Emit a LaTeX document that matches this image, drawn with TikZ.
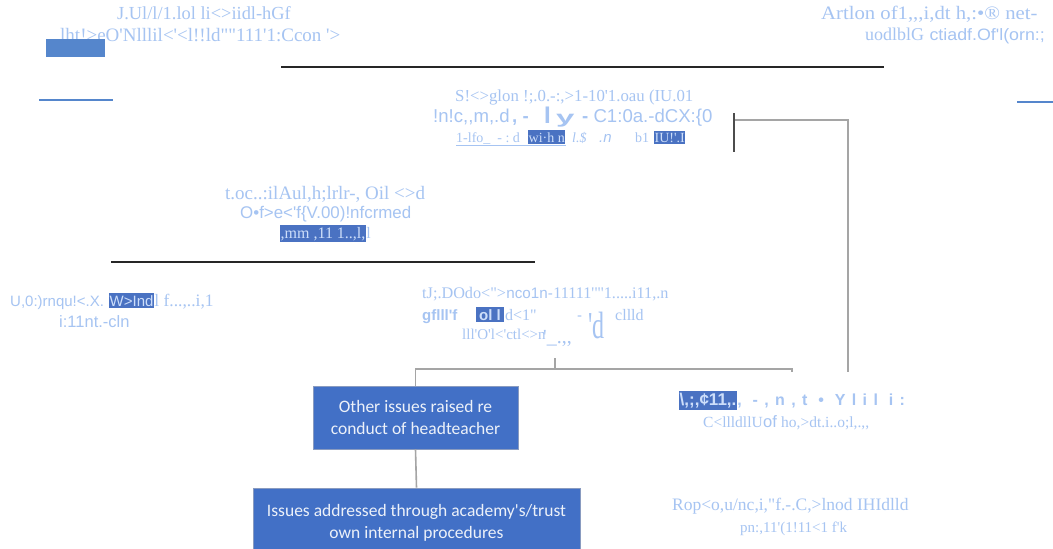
\documentclass[tikz,border=0pt]{standalone}
\usepackage{fontspec}
\setmainfont{Liberation Serif}[Ligatures=TeXOff]
\setsansfont{Liberation Sans}[Ligatures=TeXOff]
\newfontfamily\boxfont{Carlito}[Ligatures=TeXOff]
\definecolor{lb}{RGB}{166,196,242}
\definecolor{hlf}{RGB}{74,114,194}
\definecolor{hlt}{RGB}{205,222,250}
\definecolor{bxf}{RGB}{66,112,198}
\definecolor{bxd}{RGB}{58,88,150}
\definecolor{gl}{RGB}{165,165,165}
\definecolor{ruleblue}{RGB}{85,134,204}
\tikzset{
  ocr/.style={inner sep=0pt, anchor=base west, text=lb},
  hl/.style={inner xsep=0.5pt, inner ysep=2pt, anchor=base west, fill=hlf, text=hlt},
  serifz/.style={font=\fontsize{#1}{#1}\selectfont\rmfamily},
  sansz/.style={font=\fontsize{#1}{#1}\selectfont\sffamily},
  conn/.style={draw=gl, line width=1.6pt},
  blackrule/.style={draw=black!85, line width=2.2pt},
  bluerule/.style={draw=ruleblue, line width=2.4pt},
  flowbox/.style={fill=bxf, draw=bxd!60, line width=0.8pt, text=white!90!bxf,
    font=\boxfont\fontsize{17.5}{21.5}\selectfont, align=center, inner sep=0pt}
}
\begin{document}
\begin{tikzpicture}[x=1pt,y=-1pt]
\useasboundingbox (0,0) rectangle (1053,549);
\clip (0,0) rectangle (1053,549);
\fill[white] (0,0) rectangle (1053,549);

% ---------- rules ----------
\coordinate (ra) at (281,67);  \coordinate (rb) at (884,67);
\coordinate (rc) at (111,262); \coordinate (rd) at (535,262);
\coordinate (ba) at (39,100);  \coordinate (bb) at (113,100);
\coordinate (bc) at (1017,102); \coordinate (bd) at (1053,102);
\draw[blackrule] (ra) -- (rb);
\draw[blackrule] (rc) -- (rd);
\draw[bluerule] (ba) -- (bb);
\draw[bluerule] (bc) -- (bd);

% ---------- top left ----------
\node[ocr,serifz=18.4] (l1) at (117,19) {J.Ul/l/1.lol li<>iidl-hGf};
\node[ocr,serifz=19] (l2) at (60,41) {lht!>eO'Nlllil<'<l!!ld""111'1:Ccon '>};
\fill[ruleblue] (46,39) rectangle (105,57);

% ---------- top right ----------
\node[ocr,serifz=19] (r1) at (821,19) {\scalebox{1.09}[1]{Artlon of1,,,i,dt h,:•® net-}};
\node[ocr,serifz=18] (r2a) at (865,40) {uodlblG};
\node[ocr,sansz=16.5] (r2b) at (r2a.base east) {\scalebox{1.08}[1]{\ ctiadf.Of'l(orn:;}};

% ---------- centre top ----------
\node[ocr,serifz=16.8] (c1) at (455,101) {S!<>glon !;.0.-:,>1-10'1.oau (IU.01};
\node[ocr,sansz=18.6] (c2a) at (433,122) {!n!c,,m,.d};
\node[ocr,sansz=18.6] (c2b) at (512,122) {\textbf{, - }};
\node[ocr,sansz=24] (c2c) at (544,123) {\textbf{I}};
\node[ocr,sansz=22] (c2d) at (556,123) {\scalebox{1.5}[0.8]{\textbf{y}}};
\node[ocr,sansz=18.6] (c2e) at (582,122) {\textbf{-} C1:0a.-dCX:\{0};
\node[ocr,serifz=14] (c3a) at (456,142) {1-lfo\_\ \ -\ :\ d};
\node[hl,serifz=14] (c3b) at (528,142) {wi·h n};
\node[ocr,serifz=14] (c3c) at (572,142) {\itshape l.\$};
\node[ocr,sansz=15] (c3d) at (599,142) {\itshape .n};
\node[ocr,serifz=14] (c3e) at (635,142) {b1};
\node[hl,serifz=14] (c3f) at (654,142) {IU!'.I};
\draw[lb, line width=1pt] (c3a.base west) ++(0,3) coordinate (ul1) -- (c3b.south east |- ul1);

% ---------- right bracket ----------
\coordinate (bkt) at (734,113);
\coordinate (bkd) at (734,152);
\coordinate (bk) at (735,120);
\coordinate (bkr) at (848,120);
\coordinate (bkb) at (848,372);
\draw[draw=black!70, line width=2pt] (bkt) -- (bkd);
\draw[conn] (bk) -- (bkr) -- (bkb);

% ---------- middle left ----------
\node[ocr,serifz=19] (m1) at (225,199) {t.oc..:ilAul,h;lrlr-, Oil <>d};
\node[ocr,sansz=16.9] (m2) at (240,218) {O•f>e<'f\{V.00)!nfcrmed};
\node[hl,serifz=16] (m3) at (280,238) {,mm ,11 1..,l,};
\node[ocr,serifz=16] (m3b) at (m3.base east) {l};

% ---------- left ----------
\node[ocr,sansz=15] (L1a) at (10,306) {U,0:)rnqu!<.X.};
\node[hl,sansz=15] (L1b) at (109,306) {W>Ind};
\node[ocr,serifz=17.5] (L1c) at (L1b.base east) {l f...,..i,1};
\node[ocr,sansz=16.5] (L2) at (59,327) {i:11nt.-cln};

% ---------- centre lower ----------
\node[ocr,serifz=16.2] (n1a) at (422,298) {tJ;.DOdo<">\ };
\node[ocr,sansz=15.2] (n1b) at (n1a.base east) {nco1n-};
\node[ocr,serifz=16.2] (n1c) at (n1b.base east) {11111'"'1.....i11,.n};
\node[ocr,sansz=15] (n2a) at (422,320) {\bfseries gflll'f};
\node[hl,sansz=15,inner xsep=3pt] (n2b) at (476,320) {\bfseries ol l};
\node[ocr,serifz=16] (n2c) at (505,320) {d<1"};
\node[ocr,sansz=15] (n2d) at (577,320) {-};
\node[ocr,serifz=16] (n2f) at (615,320) {cllld};
\node[ocr,serifz=15] (n3a) at (462,339) {lll'O'l<'ctl<>n};
\node[ocr,serifz=20] (n3b) at (543,343) {'\_.,,};
\node[ocr,serifz=30] (n3c) at (588,338) {\scalebox{0.8}[1.27]{'d}};

% ---------- tree ----------
\node[flowbox, minimum width=205pt, minimum height=63pt] (b1) at (415.5,417.5)
  {Other issues raised re\\conduct of headteacher};
\node[flowbox, minimum width=327pt, minimum height=70pt] (b2) at (416.5,523)
  {Issues addressed through academy's/trust\\own internal procedures};
\coordinate (j) at (415.5,369);
\coordinate (jr) at (792,369);
\coordinate (jt) at (555,358);
\coordinate (jm) at (555,370);
\coordinate (jre) at (792,372);
\draw[conn] (b1.north) -- (j) -- (jr) -- (jre);
\draw[conn] (jt) -- (jm);
\draw[conn] (b1.south) -- (b2.north);

% ---------- right lower ----------
\node[hl,sansz=17] (R1a) at (679,405) {\bfseries\textbackslash,;,¢11,.};
\node[ocr,sansz=16] (R1b) at (R1a.base east) {\bfseries\addfontfeature{LetterSpace=40}, -,n,t • Ylil i:};
\node[ocr,serifz=15.5] (R2a) at (703,427) {C<llldllU };
\node[ocr,sansz=16.5] (R2b) at (R2a.base east) {of};
\node[ocr,serifz=15.5] (R2c) at (R2b.base east) {\ ho,>dt.i..o;l,.,,};
\node[ocr,serifz=17.5] (R3) at (672,510) {Rop<o,u/nc,i,"f.-.C,>lnod IHIdlld};
\node[ocr,serifz=15] (R4) at (740,532) {pn:,11'(1!11<1 f'k};
\end{tikzpicture}
\end{document}
